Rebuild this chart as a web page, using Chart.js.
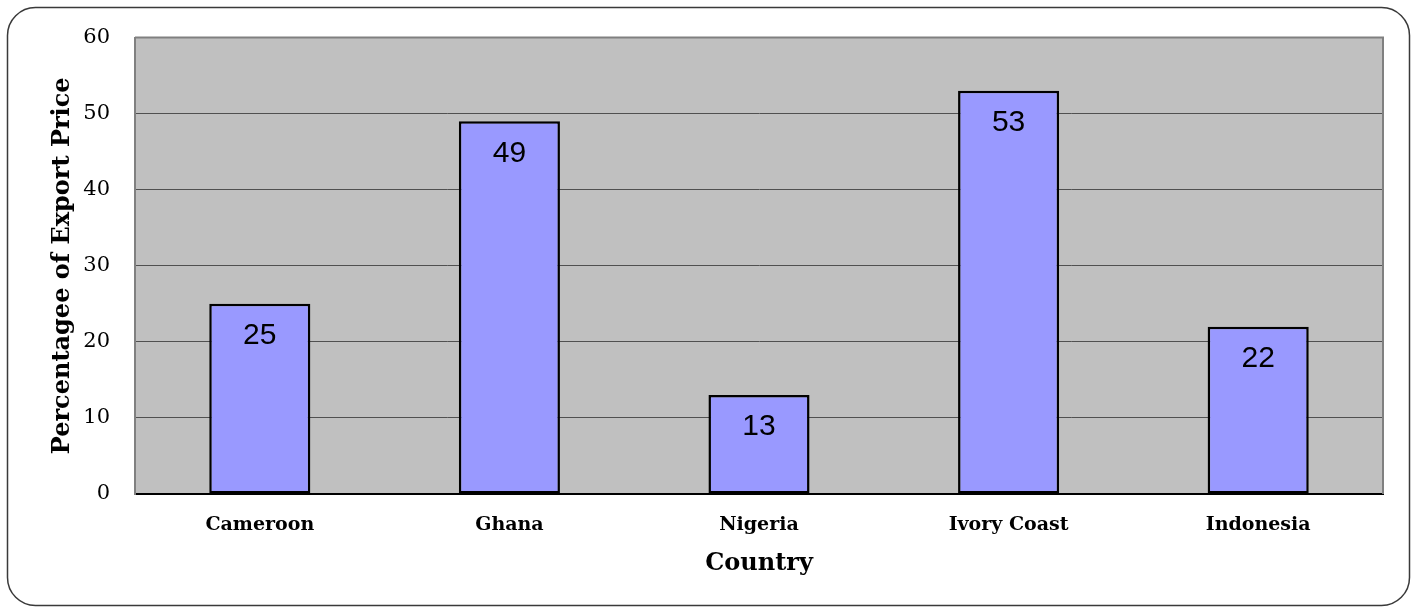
<!DOCTYPE html>
<html>
<head>
<meta charset="utf-8">
<script src="https://cdn.jsdelivr.net/npm/chart.js@4.4.1/dist/chart.umd.min.js"></script>
<style>
html,body{margin:0;padding:0;background:#fff;}
#wrap{width:1411px;height:609px;position:relative;}
</style>
</head>
<body>
<div id="wrap"><canvas id="c" width="1411" height="609"></canvas></div>
<script>
const categories = ["Cameroon", "Ghana", "Nigeria", "Ivory Coast", "Indonesia"];
const values = [25, 49, 13, 53, 22];
const yTicks = [0, 10, 20, 30, 40, 50, 60];
const yTitle = "Percentagee of Export Price";
const xTitle = "Country";

const framePlugin = {
  id: 'frame',
  beforeDraw(chart) {
    const ctx = chart.ctx;
    const a = chart.chartArea;
    ctx.save();
    ctx.fillStyle = '#ffffff';
    ctx.fillRect(0, 0, chart.width, chart.height);
    const x = 7.5, y = 7.5, w = 1402, h = 598, r = 28;
    ctx.beginPath();
    ctx.moveTo(x + r, y);
    ctx.lineTo(x + w - r, y);
    ctx.arcTo(x + w, y, x + w, y + r, r);
    ctx.lineTo(x + w, y + h - r);
    ctx.arcTo(x + w, y + h, x + w - r, y + h, r);
    ctx.lineTo(x + r, y + h);
    ctx.arcTo(x, y + h, x, y + h - r, r);
    ctx.lineTo(x, y + r);
    ctx.arcTo(x, y, x + r, y, r);
    ctx.closePath();
    ctx.strokeStyle = '#3a3a3a';
    ctx.lineWidth = 1.5;
    ctx.stroke();
    ctx.fillStyle = '#C0C0C0';
    ctx.fillRect(a.left, a.top, a.right - a.left, a.bottom - a.top);
    ctx.restore();
  },
  afterDatasetsDraw(chart) {
    const ctx = chart.ctx;
    const a = chart.chartArea;
    ctx.save();
    ctx.strokeStyle = '#808080';
    ctx.lineWidth = 2;
    ctx.beginPath();
    ctx.moveTo(a.left, a.top);
    ctx.lineTo(a.right, a.top);
    ctx.lineTo(a.right, a.bottom);
    ctx.stroke();
    const meta = chart.getDatasetMeta(0);
    ctx.fillStyle = '#000';
    ctx.font = '30px "Liberation Sans", Arial, sans-serif';
    ctx.textAlign = 'center';
    ctx.textBaseline = 'middle';
    meta.data.forEach((bar, i) => {
      ctx.fillText(String(values[i]), bar.x, bar.y + 32);
    });
    ctx.restore();
  }
};

new Chart(document.getElementById('c'), {
  type: 'bar',
  data: {
    labels: categories,
    datasets: [{
      data: values,
      backgroundColor: '#9999FF',
      borderColor: '#000000',
      borderWidth: 2.5,
      borderSkipped: false,
      categoryPercentage: 1.0,
      barPercentage: 0.405
    }]
  },
  options: {
    responsive: false,
    animation: false,
    devicePixelRatio: 1,
    layout: { padding: { top: 37, right: 28, bottom: 0, left: 0 } },
    plugins: {
      legend: { display: false },
      tooltip: { enabled: false },
      title: { display: false }
    },
    scales: {
      x: {
        grid: { display: false, drawTicks: false },
        border: { display: true, color: '#000000', width: 2 },
        ticks: {
          color: '#000',
          font: { family: '"DejaVu Serif", serif', size: 19, weight: 'bold' },
          padding: 20,
          maxRotation: 0
        },
        title: {
          display: true,
          text: xTitle,
          color: '#000',
          font: { family: '"DejaVu Serif", serif', size: 24, weight: 'bold' },
          padding: { top: 0, bottom: 31 }
        },
        afterFit(scale) { scale.height = 115; }
      },
      y: {
        min: 0, max: 60,
        afterBuildTicks(scale) { scale.ticks = yTicks.map(v => ({ value: v })); },
        grid: { color: '#505050', lineWidth: 1, drawTicks: false },
        border: { display: true, color: '#808080', width: 2 },
        ticks: {
          color: '#000',
          font: { family: '"DejaVu Serif", serif', size: 21 },
          padding: 25
        },
        title: {
          display: true,
          text: yTitle,
          color: '#000',
          font: { family: '"DejaVu Serif", serif', size: 24, weight: 'bold' },
          padding: { top: 48, bottom: 0 }
        },
        afterFit(scale) { scale.width = 135; }
      }
    }
  },
  plugins: [framePlugin]
});
</script>
</body>
</html>
